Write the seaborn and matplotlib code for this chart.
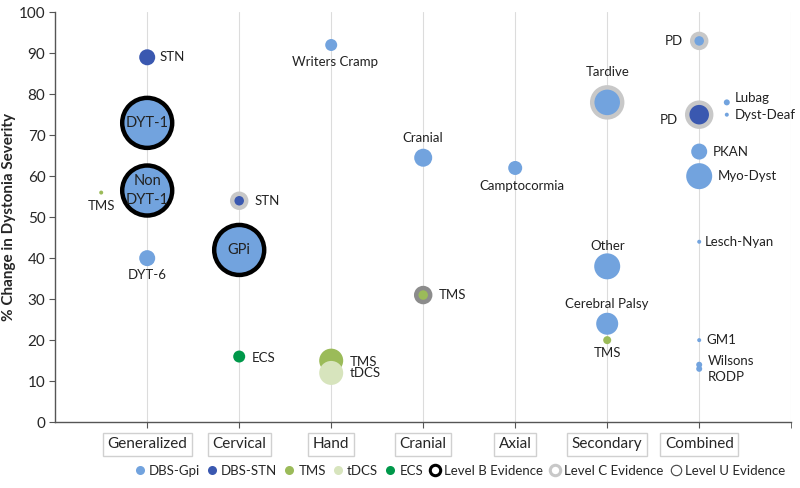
import pandas as pd
import matplotlib.pyplot as plt
import numpy as np
import seaborn as sns
from matplotlib.lines import Line2D

# categories on the x axis
categories = ["Generalized", "Cervical", "Hand", "Cranial", "Axial", "Secondary", "Combined"]

# one entry per bubble
labels = ["STN", "DYT-1", "Non\nDYT-1", "DYT-6", "TMS",
          "STN", "GPi", "ECS",
          "Writers Cramp", "TMS", "tDCS",
          "Cranial", "TMS",
          "Camptocormia",
          "Tardive", "Other", "Cerebral Palsy", "TMS",
          "PD", "PD", "Lubag", "Dyst-Deaf", "PKAN", "Myo-Dyst", "Lesch-Nyan", "GM1", "Wilsons", "RODP"]
xpos = [1, 1, 1, 1, 0.5,
        2, 2, 2,
        3, 3, 3,
        4, 4,
        5,
        6, 6, 6, 6,
        7, 7, 7.3, 7.3, 7, 7, 7, 7, 7, 7]
pct = [89, 73, 56.5, 40, 56,
       54, 42, 16,
       92, 15, 12,
       64.5, 31,
       62,
       78, 38, 24, 20,
       93, 75, 78, 75, 66, 60, 44, 20, 14, 13]
therapy = ["DBS-STN", "DBS-Gpi", "DBS-Gpi", "DBS-Gpi", "TMS",
           "DBS-STN", "DBS-Gpi", "ECS",
           "DBS-Gpi", "TMS", "tDCS",
           "DBS-Gpi", "TMS",
           "DBS-Gpi",
           "DBS-Gpi", "DBS-Gpi", "DBS-Gpi", "TMS",
           "DBS-Gpi", "DBS-STN", "DBS-Gpi", "DBS-Gpi", "DBS-Gpi", "DBS-Gpi", "DBS-Gpi", "DBS-Gpi", "DBS-Gpi", "DBS-Gpi"]
bubble = [8, 25, 25, 8, 2,
          7, 25, 6,
          6, 12, 12,
          9, 7,
          7,
          15, 13, 11, 4,
          7, 12, 3, 2, 8, 13, 2, 2, 3, 3]
evidence = ["", "B", "B", "", "",
            "C", "B", "",
            "", "", "",
            "", "U",
            "",
            "C", "", "", "",
            "C", "C", "", "", "", "", "", "", "", ""]

df = pd.DataFrame({"x": xpos, "y": pct, "therapy": therapy, "r": bubble,
                   "evidence": evidence, "label": labels})

palette = {"DBS-Gpi": "#72a3de", "DBS-STN": "#3a58b0", "TMS": "#9bbb59",
           "tDCS": "#d7e4bd", "ECS": "#00984a"}
ring = {"": "none", "B": "black", "C": "#c8c8c8", "U": "#8c8c8c"}
ring_w = {"": 0, "B": 3.2, "C": 3.2, "U": 3.2}

# label offsets (points) and alignment
offsets = [(9, 0, "left"), (0, 0, "center"), (0, 0, "center"), (0, -12, "center"), (0, -10, "center"),
           (11, 0, "left"), (0, 0, "center"), (9, -1, "left"),
           (3, -12, "center"), (13, -1, "left"), (13, 0, "left"),
           (0, 14, "center"), (11, 0, "left"),
           (5, -13, "center"),
           (0, 22, "center"), (0, 15, "center"), (0, 14, "center"), (0, -9, "center"),
           (-12, 0, "right"), (-15, -4, "right"), (6, 3, "left"), (6, 0, "left"),
           (10, 0, "left"), (13, 0, "left"), (4, 0, "left"), (5, 0, "left"), (6, 3, "left"), (6, -6, "left")]

sns.set_style("white")
plt.rcParams["font.family"] = ["Lato", "DejaVu Sans"]

fig = plt.figure(figsize=(8, 4.88), dpi=100)
ax = fig.add_axes([0.069, 0.135, 0.92, 0.84])

sizes = {r: (1.44 * r) ** 2 for r in df.r.unique()}
sns.scatterplot(data=df, x="x", y="y", hue="therapy", palette=palette,
                size="r", sizes=sizes, legend=False, ax=ax,
                edgecolor=[ring[e] for e in df.evidence],
                linewidth=[ring_w[e] for e in df.evidence], zorder=3)

for (lab, x, y), (dx, dy, ha) in zip(zip(labels, xpos, pct), offsets):
    big = ha == "center" and dx == 0 and dy == 0
    ax.annotate(lab, (x, y), xytext=(dx, dy), textcoords="offset points",
                ha=ha, va="center", fontsize=10.5 if big else 9.5,
                color="#222222", linespacing=1.4, zorder=4)

ax.set_xlim(0, 8)
ax.set_ylim(0, 100)
ax.set_yticks(range(0, 101, 10))
ax.set_xticks(range(1, 8))
ax.set_xticklabels(categories)
ax.set_xticks([8], minor=True)
for t in ax.get_xticklabels():
    t.set_bbox(dict(facecolor="white", edgecolor="#d0d0d0", pad=3, linewidth=1))
ax.tick_params(axis="x", which="both", direction="out", length=4, color="#555555",
               labelsize=11, pad=7, bottom=True)
ax.tick_params(axis="y", direction="out", length=4, color="#555555", labelsize=11,
               pad=3, left=True)
ax.grid(axis="x", which="both", color="#dcdcdc", linewidth=0.8)
ax.grid(axis="y", visible=False)
for side in ["top", "right"]:
    ax.spines[side].set_visible(False)
for side in ["left", "bottom"]:
    ax.spines[side].set_color("#555555")
    ax.spines[side].set_linewidth(1)
ax.set_xlabel("")
ax.set_ylabel("% Change in Dystonia Severity", fontsize=11, fontweight="bold", labelpad=2)

handles = [Line2D([], [], marker="o", ls="", markersize=6.5, markerfacecolor=palette[k],
                  markeredgecolor="none", label=k) for k in palette]
handles += [Line2D([], [], marker="o", ls="", markersize=7.5, markerfacecolor="white",
                   markeredgecolor=c, markeredgewidth=w, label=l)
            for c, w, l in [("black", 2.2, "Level B Evidence"), ("#c8c8c8", 2.2, "Level C Evidence"),
                            ("#444444", 0.8, "Level U Evidence")]]
fig.legend(handles=handles, loc="center", bbox_to_anchor=(0.575, 0.035), ncol=8,
           frameon=False, fontsize=9.5, handlelength=0.7, handletextpad=0.35,
           columnspacing=0.55, borderpad=0)

fig.savefig("out.png", dpi=100)
